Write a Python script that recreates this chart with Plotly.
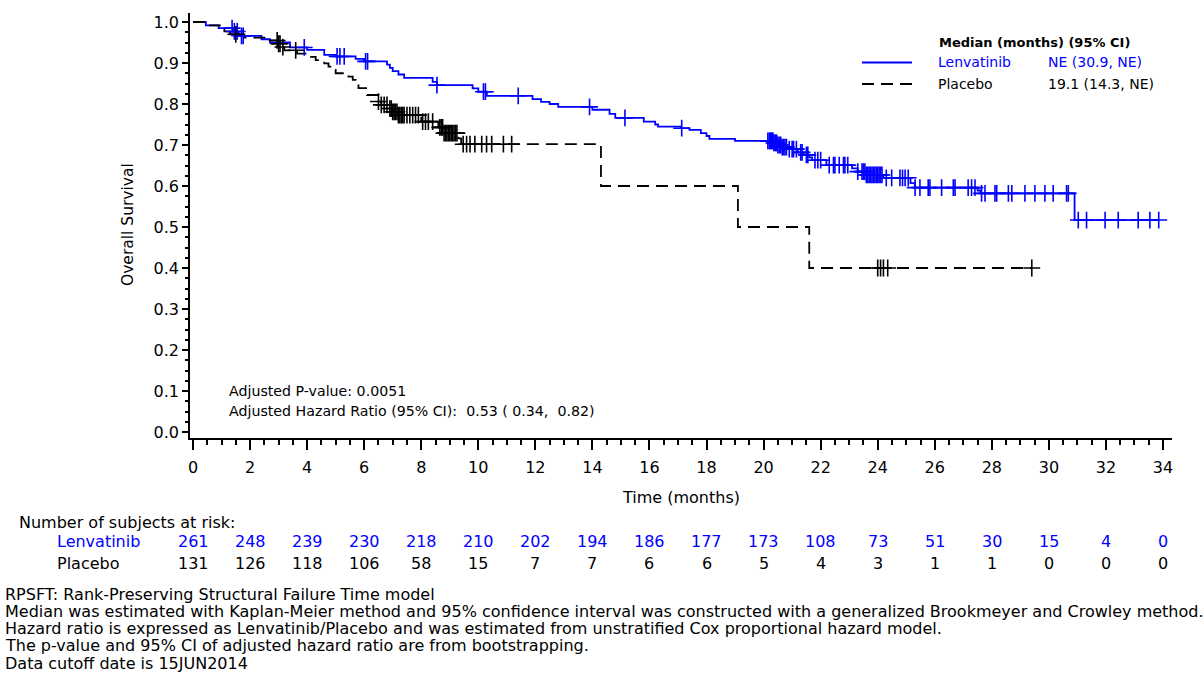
import plotly.graph_objects as go

FONT = "DejaVu Sans"
BLUE = "#0000ff"
BLACK = "#000000"

# ---------------- data ----------------
# Kaplan-Meier step functions: event time (months) and survival after the event
lenv_time = [0, 0.45, 0.9, 1.4, 1.6, 2.4, 2.7, 3.4, 4.0, 4.6, 5.0, 5.7, 6.0, 6.8, 6.9, 7.0,
             7.2, 7.4, 8.4, 8.55, 9.8, 10.0, 10.3, 11.9, 12.2, 12.5, 12.8, 14.0, 14.6, 14.8,
             15.8, 16.2, 16.3, 17.1, 17.4, 17.8, 18.0, 18.1, 19.0, 20.35, 20.5, 20.65, 20.85,
             21.2, 21.4, 21.6, 21.7, 22.2, 23.1, 23.3, 23.6, 24.2, 25.15, 25.3, 27.5, 27.6, 30.9]
lenv_surv = [1.0, 0.992, 0.985, 0.977, 0.966, 0.958, 0.950, 0.938, 0.932, 0.920, 0.916, 0.910,
             0.904, 0.896, 0.888, 0.880, 0.872, 0.864, 0.854, 0.846, 0.838, 0.830, 0.820, 0.812,
             0.805, 0.800, 0.793, 0.786, 0.776, 0.766, 0.757, 0.750, 0.745, 0.741, 0.737, 0.729,
             0.722, 0.715, 0.710, 0.705, 0.700, 0.695, 0.690, 0.682, 0.676, 0.670, 0.663, 0.651,
             0.643, 0.635, 0.627, 0.620, 0.607, 0.596, 0.589, 0.582, 0.517]
lenv_last = 33.85
lenv_cens = [1.37, 1.45, 1.55, 1.7, 1.76, 3.9, 5.05, 5.15, 5.3, 6.05, 6.12, 8.55, 10.18, 10.25,
             11.4, 13.9, 15.14, 17.13, 20.15, 20.2, 20.22, 20.25, 20.28, 20.3, 20.33, 20.36,
             20.4, 20.43, 20.46, 20.5, 20.55, 20.6, 20.65, 20.7, 20.75, 20.8, 20.9, 21.0, 21.05,
             21.15, 21.3, 21.35, 21.5, 21.55, 21.8, 21.9, 22.0, 22.3, 22.45, 22.5, 22.65, 22.8,
             22.85, 22.95, 23.3, 23.45, 23.5, 23.55, 23.6, 23.65, 23.7, 23.75, 23.8, 23.85, 23.9,
             23.95, 24.0, 24.05, 24.1, 24.15, 24.3, 24.49, 24.78, 24.87, 24.96, 25.07, 25.31,
             25.48, 25.77, 25.83, 26.24, 26.65, 26.71, 27.17, 27.29, 27.41, 27.64, 27.76, 28.11,
             28.17, 28.58, 28.70, 29.16, 29.51, 29.86, 30.15, 30.62, 30.68, 31.03, 31.32, 31.97,
             32.43, 33.13, 33.54, 33.85]

plac_time = [0, 0.5, 1.0, 1.1, 1.3, 1.8, 2.7, 3.0, 3.1, 3.2, 3.65, 4.1, 4.3, 4.6, 4.75, 4.9,
             5.0, 5.45, 5.6, 5.7, 5.8, 6.1, 6.5, 6.6, 6.9, 7.0, 7.2, 8.0, 8.6, 8.8, 9.3, 9.4,
             14.3, 19.1, 21.6]
plac_surv = [1.0, 0.992, 0.985, 0.977, 0.970, 0.962, 0.955, 0.947, 0.939, 0.931, 0.923, 0.915,
             0.907, 0.899, 0.891, 0.883, 0.875, 0.867, 0.859, 0.851, 0.839, 0.822, 0.806, 0.798,
             0.789, 0.781, 0.773, 0.757, 0.743, 0.729, 0.716, 0.702, 0.600, 0.500, 0.400]
plac_last = 29.4
plac_cens = [1.5, 2.95, 3.0, 3.05, 3.15, 3.6, 6.5, 6.6, 6.7, 6.8, 6.9, 6.95, 7.0, 7.05, 7.1,
             7.15, 7.2, 7.25, 7.3, 7.35, 7.4, 7.5, 7.6, 7.7, 7.8, 7.9, 8.05, 8.15, 8.25, 8.4,
             8.65, 8.7, 8.75, 8.8, 8.85, 8.9, 8.95, 9.0, 9.05, 9.1, 9.15, 9.2, 9.25, 9.47, 9.59,
             9.71, 9.88, 10.12, 10.29, 10.47, 10.88, 11.17, 24.0, 24.1, 24.2, 24.35, 29.4]

risk_times = [0, 2, 4, 6, 8, 10, 12, 14, 16, 18, 20, 22, 24, 26, 28, 30, 32, 34]
risk_lenv = [261, 248, 239, 230, 218, 210, 202, 194, 186, 177, 173, 108, 73, 51, 30, 15, 4, 0]
risk_plac = [131, 126, 118, 106, 58, 15, 7, 7, 6, 6, 5, 4, 3, 1, 1, 0, 0, 0]

groups = ["Lenvatinib", "Placebo"]
medians = ["NE (30.9, NE)", "19.1 (14.3, NE)"]

footnotes = [
    "RPSFT: Rank-Preserving Structural Failure Time model",
    "Median was estimated with Kaplan-Meier method and 95% confidence interval was constructed with a generalized Brookmeyer and Crowley method.",
    "Hazard ratio is expressed as Lenvatinib/Placebo and was estimated from unstratified Cox proportional hazard model.",
    "The p-value and 95% CI of adjusted hazard ratio are from bootstrapping.",
    "Data cutoff date is 15JUN2014",
]

# ---------------- layout geometry (pixels) ----------------
W, H = 1204, 681
L, R, T, B = 190, 1172, 13, 438


def px(xpix):
    return (xpix - L) / (R - L)


def py(ypix):
    return (B - ypix) / (B - T)


def surv_at(times, survs, t):
    s = survs[0]
    for tt, ss in zip(times, survs):
        if tt <= t:
            s = ss
    return s


fig = go.Figure()

# Curves
fig.add_trace(go.Scatter(x=lenv_time + [lenv_last], y=lenv_surv + [lenv_surv[-1]],
                         mode="lines", line=dict(color=BLUE, width=1.8, shape="hv"),
                         name="Lenvatinib", hoverinfo="skip"))
fig.add_trace(go.Scatter(x=plac_time + [plac_last], y=plac_surv + [plac_surv[-1]],
                         mode="lines", line=dict(color=BLACK, width=1.8, shape="hv", dash="12px,7px"),
                         name="Placebo", hoverinfo="skip"))

# Censor marks
fig.add_trace(go.Scatter(x=lenv_cens, y=[surv_at(lenv_time, lenv_surv, t) for t in lenv_cens],
                         mode="markers",
                         marker=dict(symbol="cross-thin", size=12, color=BLUE,
                                     line=dict(width=1.6, color=BLUE)),
                         hoverinfo="skip"))
fig.add_trace(go.Scatter(x=plac_cens, y=[surv_at(plac_time, plac_surv, t) for t in plac_cens],
                         mode="markers",
                         marker=dict(symbol="cross-thin", size=12, color=BLACK,
                                     line=dict(width=1.6, color=BLACK)),
                         hoverinfo="skip"))

ann = []

# Legend (drawn manually)
ann.append(dict(x=px(937), y=py(42), xref="paper", yref="paper", xanchor="left", yanchor="middle",
                text="<b>Median (months) (95% CI)</b>", showarrow=False,
                font=dict(family=FONT, size=13, color=BLACK)))
leg_rows = [62.5, 84]
leg_colors = [BLUE, BLACK]
leg_dash = ["solid", "12px,7px"]
for g, m, yy, c, d in zip(groups, medians, leg_rows, leg_colors, leg_dash):
    fig.add_shape(type="line", xref="paper", yref="paper", x0=px(862), x1=px(912),
                  y0=py(yy), y1=py(yy), line=dict(color=c, width=1.8, dash=d))
    ann.append(dict(x=px(936), y=py(yy), xref="paper", yref="paper", xanchor="left",
                    yanchor="middle", text=g, showarrow=False,
                    font=dict(family=FONT, size=14, color=c)))
    ann.append(dict(x=px(1046), y=py(yy), xref="paper", yref="paper", xanchor="left",
                    yanchor="middle", text=m, showarrow=False,
                    font=dict(family=FONT, size=14, color=c)))

# Statistics text in the plot
ann.append(dict(x=px(227), y=py(391), xref="paper", yref="paper", xanchor="left", yanchor="middle",
                text="Adjusted P-value: 0.0051", showarrow=False,
                font=dict(family=FONT, size=14.2, color=BLACK)))
ann.append(dict(x=px(227), y=py(411), xref="paper", yref="paper", xanchor="left", yanchor="middle",
                text="Adjusted Hazard Ratio (95% CI):\u00a0 0.53 ( 0.34,\u00a0 0.82)", showarrow=False,
                font=dict(family=FONT, size=14.2, color=BLACK)))

# Axis titles
ann.append(dict(x=px(128), y=py(225), xref="paper", yref="paper", xanchor="center", yanchor="middle",
                text="Overall Survival", textangle=-90, showarrow=False,
                font=dict(family=FONT, size=15.5, color=BLACK)))
ann.append(dict(x=0.5, y=py(497), xref="paper", yref="paper", xanchor="center", yanchor="middle",
                text="Time (months)", showarrow=False,
                font=dict(family=FONT, size=16, color=BLACK)))

# Risk table
ann.append(dict(x=px(17), y=py(522), xref="paper", yref="paper", xanchor="left", yanchor="middle",
                text="Number of subjects at risk:", showarrow=False,
                font=dict(family=FONT, size=16, color=BLACK)))
for g, vals, yy, c in zip(groups, [risk_lenv, risk_plac], [541, 563], [BLUE, BLACK]):
    ann.append(dict(x=px(55), y=py(yy), xref="paper", yref="paper", xanchor="left",
                    yanchor="middle", text=g, showarrow=False,
                    font=dict(family=FONT, size=16, color=c)))
    for t, v in zip(risk_times, vals):
        ann.append(dict(x=t, y=py(yy), xref="x", yref="paper", xanchor="center",
                        yanchor="middle", text=str(v), showarrow=False,
                        font=dict(family=FONT, size=16, color=c)))

# Footnotes
for i, line in enumerate(footnotes):
    ann.append(dict(x=px(3), y=py(594 + 17.3 * i), xref="paper", yref="paper", xanchor="left",
                    yanchor="middle", text=line, showarrow=False,
                    font=dict(family=FONT, size=16, color=BLACK)))

fig.update_layout(
    width=W, height=H,
    margin=dict(l=L, r=W - R, t=T, b=H - B),
    paper_bgcolor="white", plot_bgcolor="white",
    showlegend=False,
    font=dict(family=FONT, size=16, color=BLACK),
    annotations=ann,
    xaxis=dict(range=[-0.105, 34.315], tick0=0, dtick=2, ticks="outside", ticklen=10,
               tickwidth=1.5, tickcolor=BLACK, showline=True, linecolor=BLACK, linewidth=1.5,
               showgrid=False, zeroline=False, ticklabelstandoff=4,
               tickfont=dict(family=FONT, size=16, color=BLACK),
               minor=dict(dtick=0.5, tick0=0, ticks="outside", ticklen=5, tickwidth=1.5,
                          tickcolor=BLACK, showgrid=False)),
    yaxis=dict(range=[-0.01463, 1.022], tick0=0, dtick=0.1, tickformat=".1f", ticks="outside",
               ticklen=6, tickwidth=1.5, tickcolor=BLACK, showline=True, linecolor=BLACK,
               linewidth=1.5, showgrid=False, zeroline=False,
               tickfont=dict(family=FONT, size=16, color=BLACK),
               minor=dict(dtick=0.025, tick0=0, ticks="outside", ticklen=3, tickwidth=1.5,
                          tickcolor=BLACK, showgrid=False)),
)

fig.write_html("out.html")
